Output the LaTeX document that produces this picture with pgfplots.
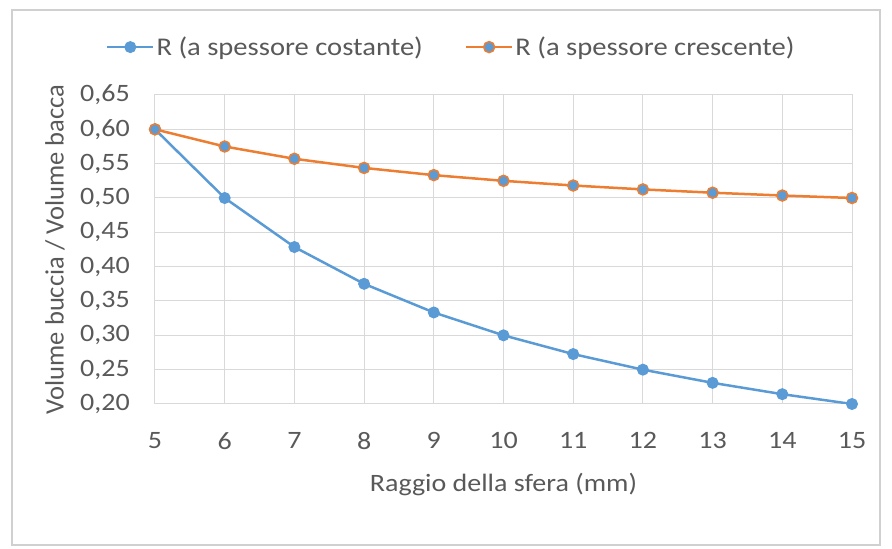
\documentclass[border=0pt]{standalone}
\usepackage{fontspec}
\setmainfont{Carlito}[FakeStretch=1.12]
\newfontfamily\ylfont{Carlito}
\usepackage{pgfplots}
\pgfplotsset{compat=1.18}
\definecolor{cblue}{HTML}{5B9BD5}
\definecolor{corange}{HTML}{ED7D31}
\definecolor{ctext}{HTML}{595959}
\definecolor{cgrid}{HTML}{D9D9D9}
\definecolor{cframe}{HTML}{D0D0D0}
\begin{document}
\begin{tikzpicture}[x=1pt,y=1pt]
\useasboundingbox (0,0) rectangle (892,549);
\draw[cframe, line width=1.2pt] (12,4) rectangle (880,539);
\begin{axis}[
  at={(155pt,145pt)}, anchor=south west,
  width=697pt, height=309pt, scale only axis,
  xmin=5, xmax=15, ymin=0.2, ymax=0.65,
  xtick={5,6,...,15},
  ytick={0.2,0.25,0.3,0.35,0.4,0.45,0.5,0.55,0.6,0.65},
  grid=major,
  major grid style={cgrid, line width=1pt},
  axis line style={cgrid, line width=1pt},
  tick style={draw=none},
  font=\fontsize{25}{28}\selectfont,
  every tick label/.append style={ctext},
  /pgf/number format/assume math mode=true,
  /pgf/number format/use comma,
  yticklabel style={/pgf/number format/fixed, /pgf/number format/fixed zerofill, /pgf/number format/precision=2},
  yticklabel style={anchor=east, inner sep=0pt, xshift=-25pt},
  xticklabel style={anchor=north, inner sep=0pt, yshift=-28pt},
  xlabel={Raggio della sfera (mm)},
  ylabel={\ylfont Volume buccia / Volume bacca},
  xlabel style={ctext, at={(axis description cs:0.5,0)}, anchor=center, yshift=-81pt},
  ylabel style={ctext, font=\fontsize{26.5}{28}\selectfont, at={(axis description cs:-0.1435,0.5)}, anchor=center},
  legend columns=2,
  legend style={at={(0.425,1.155)}, anchor=center, draw=none, fill=none,
    text=ctext, font=\fontsize{25.5}{28}\selectfont,
    /tikz/every even column/.append style={column sep=40pt}},
  legend cell align=left,
  legend image code/.code={
    \draw[#1, mark=none] (0pt,0pt) -- (46pt,0pt);
    \draw[#1, only marks] plot coordinates {(23pt,0pt)};
  },
]
\addplot[cblue, line width=2.5pt, mark=*, mark size=5.5pt, mark options={fill=cblue, draw=cblue, line width=1pt}]
coordinates {(5,0.6) (6,0.5) (7,0.4286) (8,0.375) (9,0.3333) (10,0.3) (11,0.2727) (12,0.25) (13,0.2308) (14,0.2143) (15,0.2)};
\addlegendentry{R (a spessore costante)}
\addplot[corange, line width=2.5pt, mark=*, mark size=5.5pt, mark options={fill=cblue, draw=corange, line width=1.5pt}]
coordinates {(5,0.6) (6,0.575) (7,0.5571) (8,0.5438) (9,0.5333) (10,0.525) (11,0.5182) (12,0.5125) (13,0.5077) (14,0.5036) (15,0.5)};
\addlegendentry{R (a spessore crescente)}
\end{axis}
\end{tikzpicture}
\end{document}
